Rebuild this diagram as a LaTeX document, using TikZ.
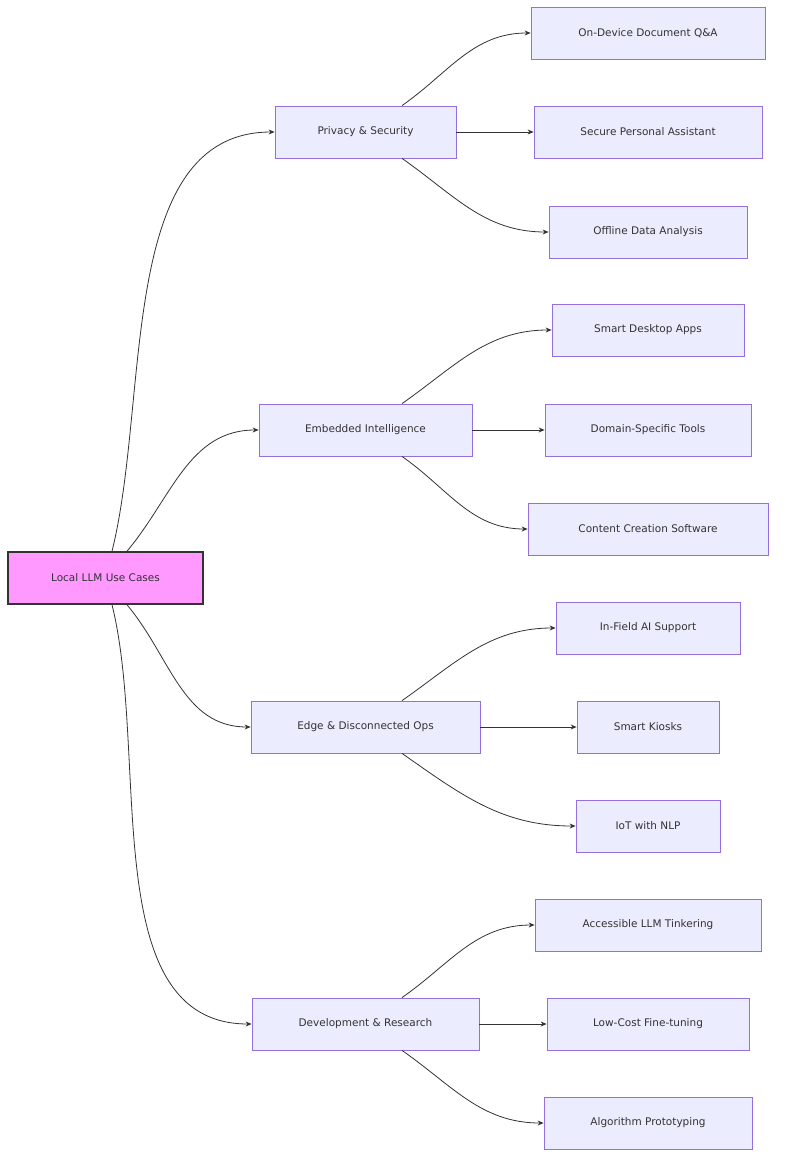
\documentclass[tikz,border=0pt]{standalone}
\usepackage{fontspec}
\setmainfont{DejaVu Sans}
\usetikzlibrary{positioning, arrows.meta}

\definecolor{boxfill}{HTML}{ECECFF}
\definecolor{boxline}{HTML}{9370DB}
\definecolor{rootfill}{HTML}{FF99FF}
\definecolor{edgeline}{HTML}{333333}

\begin{document}
\begin{tikzpicture}[x=1pt, y=-1pt, >={Stealth[length=6pt,width=5pt]},
    box/.style={draw=boxline, fill=boxfill, line width=0.8pt, minimum height=52pt,
        inner xsep=0pt, font=\fontsize{10.5}{12}\selectfont, text=edgeline},
    rootbox/.style={box, draw=edgeline, fill=rootfill, line width=1.6pt},
    link/.style={->, draw=edgeline, line width=0.8pt}]
    \useasboundingbox (0,0) rectangle (784,1169);

    % root and first level
    \node[rootbox, minimum width=195pt] (root) at (105.5,578) {Local LLM Use Cases};
    \node[box, minimum width=181pt] (priv) at (365.5,132) {Privacy \& Security};
    \node[box, minimum width=213pt] (emb) at (365.5,430) {Embedded Intelligence};
    \node[box, minimum width=229pt] (edge) at (365.5,727) {Edge \& Disconnected Ops};
    \node[box, minimum width=227pt] (dev) at (365.5,1024) {Development \& Research};

    % leaves
    \node[box, minimum width=234pt] (qa) at (648,33) {On-Device Document Q\&A};
    \node[box, minimum width=228pt] (assist) at (648,132) {Secure Personal Assistant};
    \node[box, minimum width=198pt] (offline) at (648,232) {Offline Data Analysis};
    \node[box, minimum width=192pt] (desktop) at (648,330) {Smart Desktop Apps};
    \node[box, minimum width=206pt] (domain) at (648,430) {Domain-Specific Tools};
    \node[box, minimum width=240pt] (content) at (648,529) {Content Creation Software};
    \node[box, minimum width=184pt] (field) at (648,628) {In-Field AI Support};
    \node[box, minimum width=142pt] (kiosk) at (648,727) {Smart Kiosks};
    \node[box, minimum width=144pt] (iot) at (648,826) {IoT with NLP};
    \node[box, minimum width=226pt] (tinker) at (648,925) {Accessible LLM Tinkering};
    \node[box, minimum width=202pt] (tune) at (648,1024) {Low-Cost Fine-tuning};
    \node[box, minimum width=208pt] (proto) at (648,1123) {Algorithm Prototyping};

    % root to first level
    \draw[link] ([xshift=6.5pt]root.north) to[out=76,in=180,looseness=0.9] (priv.west);
    \draw[link] ([xshift=21.5pt]root.north) to[out=50,in=180] (emb.west);
    \draw[link] ([xshift=21.5pt]root.south) to[out=-50,in=180] (edge.west);
    \draw[link] ([xshift=6.5pt]root.south) to[out=-76,in=180,looseness=0.9] (dev.west);

    % first level to leaves
    \foreach \p/\a/\b/\c in {priv/qa/assist/offline, emb/desktop/domain/content,
                             edge/field/kiosk/iot, dev/tinker/tune/proto} {
        \draw[link] ([xshift=36.5pt]\p.north) to[out=35,in=180] (\a.west);
        \draw[link] (\p.east) -- (\b.west);
        \draw[link] ([xshift=36.5pt]\p.south) to[out=-35,in=180] (\c.west);
    }
\end{tikzpicture}
\end{document}
